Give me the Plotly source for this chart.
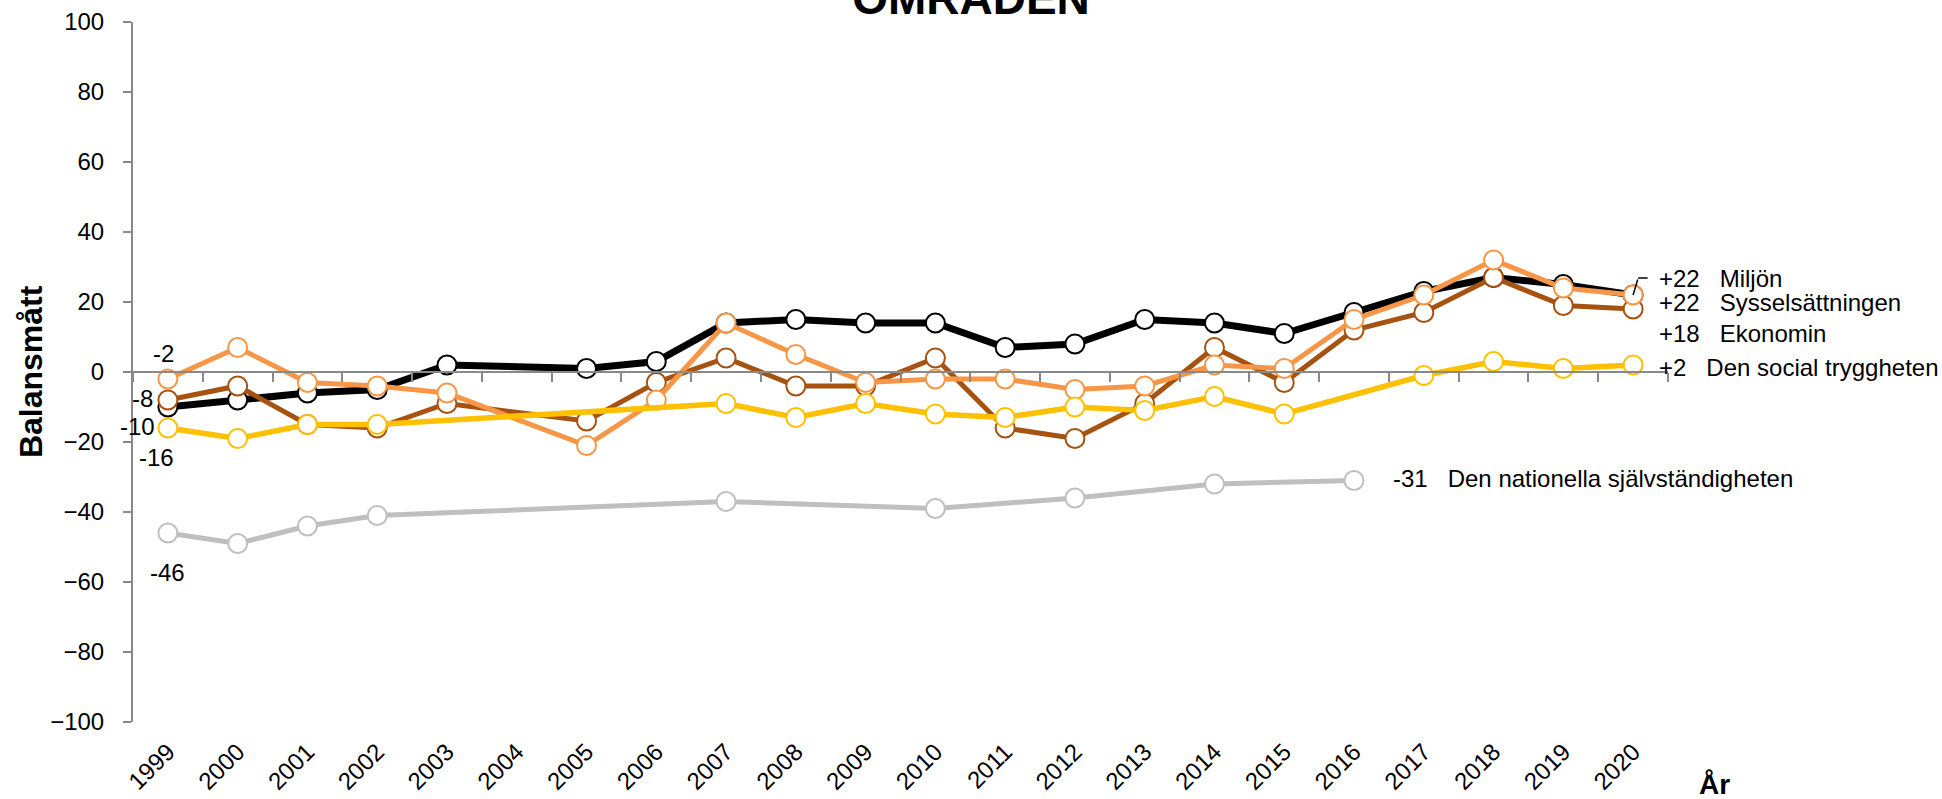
import plotly.graph_objects as go

years = list(range(1999, 2021))
year_labels = [str(y) for y in years]

miljon = [-10, -8, -6, -5, 2, None, 1, 3, 14, 15, 14, 14, 7, 8, 15, 14, 11, 17, 23, 27, 25, 22]
syssels = [-2, 7, -3, -4, -6, None, -21, -8, 14, 5, -3, -2, -2, -5, -4, 2, 1, 15, 22, 32, 24, 22]
ekonomi = [-8, -4, -15, -16, -9, None, -14, -3, 4, -4, -4, 4, -16, -19, -9, 7, -3, 12, 17, 27, 19, 18]
social = [-16, -19, -15, -15, None, None, None, None, -9, -13, -9, -12, -13, -10, -11, -7, -12, None, -1, 3, 1, 2]
nation = [-46, -49, -44, -41, None, None, None, None, -37, None, None, -39, None, -36, None, -32, None, -31, None, None, None, None]

series_names = ["Den nationella självständigheten", "Miljön", "Ekonomin", "Sysselsättningen", "Den social trygghet"]
series_colors = ["#BFBFBF", "#000000", "#A65210", "#F79646", "#FFC000"]
series_widths = [5, 7, 5, 5, 5.5]
series_values = [nation, miljon, ekonomi, syssels, social]

FONT = "Liberation Sans, Arial, sans-serif"
GRAY = "#898989"

fig = go.Figure()
for name, col, w, vals in zip(series_names, series_colors, series_widths, series_values):
    fig.add_trace(go.Scatter(
        x=years, y=vals, mode="lines+markers", name=name, connectgaps=True,
        line=dict(color=col, width=w),
        marker=dict(size=19, color="white", line=dict(color=col, width=2)),
        showlegend=False, hoverinfo="skip"))

# invisible trace to create the zero-line axis (xaxis2)
fig.add_trace(go.Scatter(x=[years[0]], y=[0], xaxis="x2", yaxis="y", mode="markers",
                         marker=dict(opacity=0), showlegend=False, hoverinfo="skip"))

annotations = []
first_labels = [
    ("-2", syssels[0], -4, 26, "center"),
    ("-8", ekonomi[0], -13, 2, "right"),
    ("-10", miljon[0], -11, -19, "right"),
    ("-16", social[0], -11, -29, "center"),
    ("-46", nation[0], 0, -39, "center"),
]
for txt, yv, xs, ys, xa in first_labels:
    annotations.append(dict(x=years[0], y=yv, text=txt, showarrow=False, xanchor=xa,
                            yanchor="middle", xshift=xs, yshift=ys,
                            font=dict(family=FONT, size=24, color="black")))

NB = "\u00a0\u00a0\u00a0"
end_labels = [
    ("+22" + NB + "Miljön", years[-1], miljon[-1], 24, 17),
    ("+22" + NB + "Sysselsättningen", years[-1], syssels[-1], 24, -7),
    ("+18" + NB + "Ekonomin", years[-1], ekonomi[-1], 24, -24),
    ("+2" + NB + "Den social tryggheten", years[-1], social[-1], 24, -2),
    ("-31" + NB + "Den nationella självständigheten", 2016, -31, 37, 2),
]
for txt, xv, yv, xs, ys in end_labels:
    annotations.append(dict(x=xv, y=yv, text=txt, showarrow=False, xanchor="left",
                            yanchor="middle", xshift=xs, yshift=ys,
                            font=dict(family=FONT, size=24, color="black")))

# leader line for Miljön
annotations.append(dict(x=years[-1], y=miljon[-1], text="", showarrow=True, arrowhead=0,
                        arrowwidth=1.5, arrowcolor="black", ax=5, ay=-17, standoff=0,
                        font=dict(size=1)))
annotations.append(dict(x=years[-1], y=miljon[-1], text="", showarrow=True, arrowhead=0,
                        arrowwidth=1.5, arrowcolor="black", ax=11, ay=0, xshift=5, yshift=17,
                        standoff=0, font=dict(size=1)))

# axis titles
annotations.append(dict(xref="paper", yref="paper", x=-0.0664, y=0.5, text="<b>Balansmått</b>",
                        textangle=-90, showarrow=False, xanchor="center", yanchor="middle",
                        font=dict(family=FONT, size=32, color="black")))
annotations.append(dict(xref="paper", yref="paper", x=(1715 - 132.5) / 1535.5, y=-0.089,
                        text="<b>År</b>", showarrow=False, xanchor="center", yanchor="middle",
                        font=dict(family=FONT, size=28, color="black")))

fig.update_layout(
    width=1942, height=799,
    margin=dict(l=132.5, r=274, t=22, b=77, autoexpand=False),
    paper_bgcolor="white", plot_bgcolor="white",
    title=dict(text="<b>OMRÅDEN</b>", x=0.5, xref="container", xanchor="center",
               y=0.9825, yref="container", yanchor="bottom", automargin=False,
               font=dict(family=FONT, size=46, color="black")),
    xaxis=dict(range=[1998.5, 2020.5], tickmode="array", tickvals=years, ticktext=year_labels,
               tickangle=-45, showline=False, ticks="", showgrid=False, zeroline=False,
               automargin=False,
               tickfont=dict(family=FONT, size=24, color="black"), ticklabelstandoff=10),
    xaxis2=dict(range=[1998.5, 2020.5], overlaying="x", anchor="free", position=0.5,
                showline=True, linecolor=GRAY, linewidth=2, ticks="outside", ticklen=9,
                tickwidth=2, tickcolor=GRAY, tickmode="array", automargin=False,
                tickvals=[y - 0.5 for y in years] + [years[-1] + 0.5],
                showticklabels=False, showgrid=False, zeroline=False),
    yaxis=dict(range=[-100, 100], tickmode="array", tickvals=list(range(-100, 101, 20)),
               showline=True, linecolor=GRAY, linewidth=2, ticks="outside", ticklen=8,
               tickwidth=2, tickcolor=GRAY, showgrid=False, zeroline=False, automargin=False,
               tickfont=dict(family=FONT, size=24, color="black"), ticklabelstandoff=14),
    annotations=annotations,
)

fig.write_html("out.html", config={"displayModeBar": False},
               post_script="document.body.style.margin='0';document.body.style.overflow='hidden';")
